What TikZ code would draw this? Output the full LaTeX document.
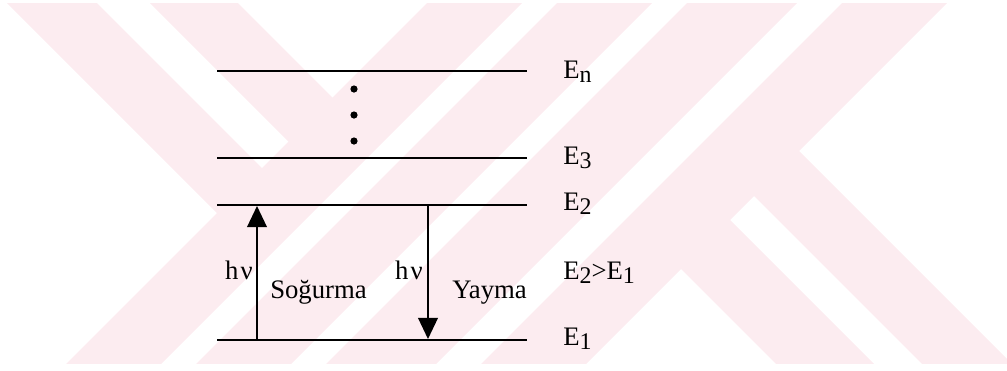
\documentclass[tikz,border=0pt]{standalone}
\usepackage{fontspec}
\setmainfont{Liberation Serif}
\usepackage{xcolor}
\usepackage{tikz}
\usetikzlibrary{arrows.meta}
\definecolor{wmpink}{RGB}{252,236,240}
\newcommand{\lowsub}[1]{\raisebox{-0.1cm}{\fontsize{17}{17}\selectfont #1}}

\begin{document}
\begin{tikzpicture}[x=0.025cm, y=-0.025cm]
        \tikzstyle{level} = [line width=1.2pt]
        \tikzstyle{lbl} = [anchor=base west, inner sep=0pt, font=\fontsize{19}{21}\selectfont]
        \tikzstyle{hnu} = [lbl, anchor=base east]
        \tikzstyle{photon} = [line width=1.2pt, -{Triangle[length=15pt, width=14pt]}]
        \tikzstyle{dot} = [circle, fill=black, inner sep=0pt, minimum size=0.18cm]
        \tikzstyle{wm} = [fill=wmpink]

        \useasboundingbox (0,0) rectangle (1007,370);

        % watermark
        \begin{scope}
            \clip (0,3) rectangle (1007,363);
            \fill [wm] (-6,-10) -- (218,214) -- (263,169) -- (84,-10) -- cycle;
            \fill [wm] (137,-10) -- (289.5,142.5) -- (333.5,98.5) -- (225,-10) -- cycle;
            \fill [wm] (440,-10) -- (50,380) -- (145,380) -- (535,-10) -- cycle;
            \fill [wm] (570,-10) -- (180,380) -- (275,380) -- (665,-10) -- cycle;
            \fill [wm] (700,-10) -- (310,380) -- (420,380) -- (810,-10) -- cycle;
            \fill [wm] (855,-10) -- (465,380) -- (570,380) -- (960,-10) -- cycle;
            \fill [wm] (678.5,266.5) -- (792,380) -- (890,380) -- (727.5,217.5) -- cycle;
            \fill [wm] (751.5,193.5) -- (938,380) -- (1028,380) -- (796.5,148.5) -- cycle;
        \end{scope}

        \coordinate (enl) at (217,71);
        \coordinate (enr) at (527,71);
        \coordinate (e3l) at (217,158);
        \coordinate (e3r) at (527,158);
        \coordinate (e2l) at (217,205);
        \coordinate (e2r) at (527,205);
        \coordinate (e1l) at (217,340);
        \coordinate (e1r) at (527,340);

        \draw [level] (enl) -- (enr);
        \draw [level] (e3l) -- (e3r);
        \draw [level] (e2l) -- (e2r);
        \draw [level] (e1l) -- (e1r);

        \node (en) [lbl] at (563,78) {E\lowsub{n}};
        \node (e3) [lbl] at (563,164) {E\lowsub{3}};
        \node (e2) [lbl] at (563,210) {E\lowsub{2}};
        \node (cmp) [lbl] at (563,279) {E\lowsub{2}>E\lowsub{1}};
        \node (e1) [lbl] at (563,345) {E\lowsub{1}};

        \node (d1) [dot] at (354,89) {};
        \node (d2) [dot] at (354,115) {};
        \node (d3) [dot] at (354,141) {};

        \coordinate (absb) at (257,340);
        \coordinate (abst) at (257,206);
        \coordinate (emt) at (428,205);
        \coordinate (emb) at (428,339);
        \draw [photon] (absb) -- (abst);
        \draw [photon] (emt) -- (emb);

        \node (hnu1) [hnu] at (253,279) {h\kern1.5ptν};
        \node (abs) [lbl] at (270,298) {Soğurma};
        \node (hnu2) [hnu] at (423,279) {h\kern1.5ptν};
        \node (emi) [lbl] at (452,298) {Yayma};
\end{tikzpicture}
\end{document}
